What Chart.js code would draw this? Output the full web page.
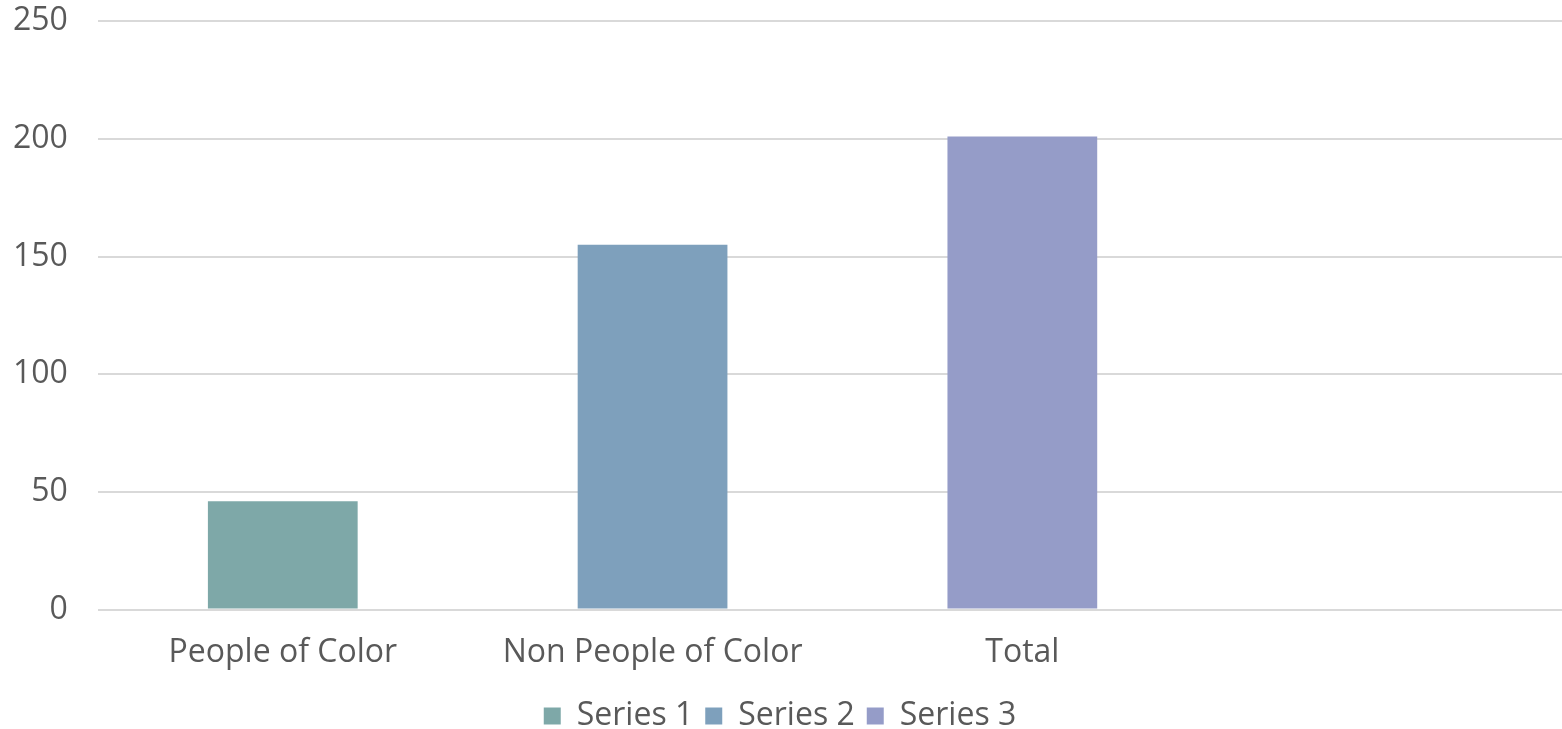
<!DOCTYPE html>
<html>
<head>
<meta charset="utf-8">
<script src="https://cdn.jsdelivr.net/npm/chart.js@4"></script>
<style>
  body { margin: 0; overflow: hidden; background: #fff; }
  #wrap { width: 1577px; height: 770px; margin-top: -28px; }
</style>
</head>
<body>
<div id="wrap"><canvas id="myChart"></canvas></div>
<script>
// categories (last one is empty in the original)
var categories = ['People of Color', 'Non People of Color', 'Total', ''];
var series1 = [46, null, null, null];
var series2 = [null, 155, null, null];
var series3 = [null, null, 201, null];
var seriesNames = ['Series 1', 'Series 2', 'Series 3'];
var yTicks = [0, 50, 100, 150, 200, 250];

var colors = ['#7ea8a8', '#7ea0bc', '#959cc8'];
var textColor = '#595959';
var font = "'Open Sans', 'Noto Sans', sans-serif";

const ctx = document.getElementById('myChart');

new Chart(ctx, {
  type: 'bar',
  data: {
    labels: categories,
    datasets: [
      { label: seriesNames[0], data: series1, backgroundColor: colors[0] },
      { label: seriesNames[1], data: series2, backgroundColor: colors[1] },
      { label: seriesNames[2], data: series3, backgroundColor: colors[2] }
    ]
  },
  options: {
    responsive: true,
    maintainAspectRatio: false,
    animation: false,
    skipNull: true,
    categoryPercentage: 1,
    barPercentage: 0.405,
    layout: { padding: { top: 0, left: -17, bottom: 0 } },
    scales: {
      x: {
        grid: { display: false },
        border: { display: false },
        ticks: { color: textColor, font: { family: font, size: 32 }, padding: 16 }
      },
      y: {
        min: yTicks[0],
        max: yTicks[yTicks.length - 1],
        afterBuildTicks: function(axis) {
          axis.ticks = yTicks.map(function(v) { return { value: v }; });
        },
        grid: { color: '#d9d9d9', lineWidth: 2, drawTicks: false },
        border: { display: false },
        ticks: { color: textColor, font: { family: font, size: 32 }, padding: 30 }
      }
    },
    plugins: {
      legend: {
        position: 'bottom',
        labels: {
          color: textColor,
          font: { family: font, size: 32, lineHeight: 1.0 },
          boxWidth: 17,
          boxHeight: 17,
          padding: 12
        }
      },
      tooltip: { enabled: false }
    }
  }
});
</script>
</body>
</html>
